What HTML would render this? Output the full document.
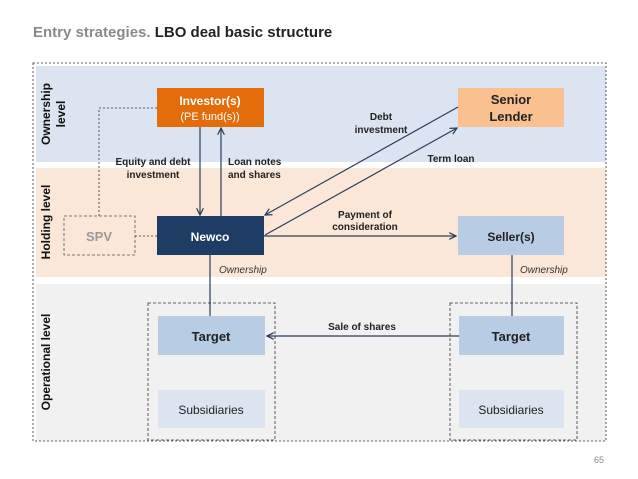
<!DOCTYPE html>
<html><head><meta charset="utf-8"><style>
html,body{margin:0;padding:0;background:#fff;}
svg{display:block;font-family:"Liberation Sans",Arial,sans-serif;}
</style></head><body>
<svg width="638" height="479" viewBox="0 0 638 479" xmlns="http://www.w3.org/2000/svg">
<defs>
<marker id="a" viewBox="0 0 10 10" refX="9" refY="5" markerWidth="7" markerHeight="7" orient="auto-start-reverse"><path d="M1,1 L9,5 L1,9" fill="none" stroke="#2b3f5c" stroke-width="1.5"/></marker>
</defs>
<text x="33" y="37" font-size="15" font-weight="bold" fill="#8a8a8a">Entry strategies. <tspan fill="#222">LBO deal basic structure</tspan></text>
<rect x="36" y="66" width="570" height="96" fill="#dbe4f0"/>
<rect x="36" y="168" width="570" height="109" fill="#fbe7d7"/>
<rect x="36" y="284" width="570" height="157" fill="#f1f1f1"/>
<rect x="33" y="63" width="573" height="378" fill="none" stroke="#333" stroke-width="0.8" stroke-dasharray="2,2"/>
<text transform="translate(50,114) rotate(-90)" text-anchor="middle" font-size="12" font-weight="bold" fill="#111">Ownership</text>
<text transform="translate(65,114) rotate(-90)" text-anchor="middle" font-size="12" font-weight="bold" fill="#111">level</text>
<text transform="translate(50,222) rotate(-90)" text-anchor="middle" font-size="12" font-weight="bold" fill="#111">Holding level</text>
<text transform="translate(50,362) rotate(-90)" text-anchor="middle" font-size="12" font-weight="bold" fill="#111">Operational level</text>
<!-- dashed SPV links -->
<polyline points="157,108 99,108 99,216" fill="none" stroke="#333" stroke-width="0.8" stroke-dasharray="2,2"/>
<line x1="135" y1="236" x2="157" y2="236" stroke="#333" stroke-width="0.8" stroke-dasharray="2,2"/>
<rect x="64" y="216" width="71" height="39" fill="none" stroke="#555" stroke-width="0.8" stroke-dasharray="3,2"/>
<text x="99" y="241" text-anchor="middle" font-size="13" font-weight="bold" fill="#999">SPV</text>
<!-- boxes -->
<rect x="157" y="88" width="107" height="39" fill="#e46c0a"/>
<text x="210" y="105" text-anchor="middle" font-size="12" font-weight="bold" fill="#fff">Investor(s)</text>
<text x="210" y="120" text-anchor="middle" font-size="11" fill="#fff">(PE fund(s))</text>
<rect x="458" y="88" width="106" height="39" fill="#fac090"/>
<text x="511" y="104" text-anchor="middle" font-size="13" font-weight="bold" fill="#222">Senior</text>
<text x="511" y="121" text-anchor="middle" font-size="13" font-weight="bold" fill="#222">Lender</text>
<rect x="157" y="216" width="107" height="39" fill="#1f3c64"/>
<text x="210" y="241" text-anchor="middle" font-size="12" font-weight="bold" fill="#fff">Newco</text>
<rect x="458" y="216" width="106" height="39" fill="#b8cce4"/>
<text x="511" y="241" text-anchor="middle" font-size="12" font-weight="bold" fill="#222">Seller(s)</text>
<!-- arrows -->
<line x1="200" y1="127" x2="200" y2="215" stroke="#2b3f5c" stroke-width="1.2" marker-end="url(#a)"/>
<line x1="221" y1="216" x2="221" y2="128" stroke="#2b3f5c" stroke-width="1.2" marker-end="url(#a)"/>
<line x1="458" y1="107" x2="265" y2="215" stroke="#2b3f5c" stroke-width="1.2" marker-end="url(#a)"/>
<line x1="265" y1="235" x2="457" y2="128" stroke="#2b3f5c" stroke-width="1.2" marker-end="url(#a)"/>
<line x1="264" y1="236" x2="456" y2="236" stroke="#2b3f5c" stroke-width="1.2" marker-end="url(#a)"/>
<text x="153" y="165" text-anchor="middle" font-size="10" font-weight="bold" fill="#222">Equity and debt</text>
<text x="153" y="178" text-anchor="middle" font-size="10" font-weight="bold" fill="#222">investment</text>
<text x="228" y="165" font-size="10" font-weight="bold" fill="#222">Loan notes</text>
<text x="228" y="178" font-size="10" font-weight="bold" fill="#222">and shares</text>
<text x="381" y="120" text-anchor="middle" font-size="10" font-weight="bold" fill="#222">Debt</text>
<text x="381" y="133" text-anchor="middle" font-size="10" font-weight="bold" fill="#222">investment</text>
<text x="451" y="162" text-anchor="middle" font-size="10" font-weight="bold" fill="#222">Term loan</text>
<text x="365" y="218" text-anchor="middle" font-size="10" font-weight="bold" fill="#222">Payment of</text>
<text x="365" y="230" text-anchor="middle" font-size="10" font-weight="bold" fill="#222">consideration</text>
<text x="219" y="273" font-size="10" font-style="italic" fill="#333">Ownership</text>
<text x="520" y="273" font-size="10" font-style="italic" fill="#333">Ownership</text>
<line x1="210" y1="255" x2="210" y2="316" stroke="#2b3f5c" stroke-width="1.2"/>
<line x1="512" y1="255" x2="512" y2="316" stroke="#2b3f5c" stroke-width="1.2"/>
<!-- groups -->
<rect x="148" y="303" width="127" height="137" fill="none" stroke="#333" stroke-width="0.8" stroke-dasharray="3,2"/>
<rect x="450" y="303" width="127" height="137" fill="none" stroke="#333" stroke-width="0.8" stroke-dasharray="3,2"/>
<rect x="158" y="316" width="107" height="39" fill="#b8cce4"/>
<text x="211" y="341" text-anchor="middle" font-size="13" font-weight="bold" fill="#222">Target</text>
<rect x="158" y="390" width="107" height="38" fill="#dbe4f0"/>
<text x="211" y="414" text-anchor="middle" font-size="12" fill="#222">Subsidiaries</text>
<rect x="459" y="316" width="105" height="39" fill="#b8cce4"/>
<text x="511" y="341" text-anchor="middle" font-size="13" font-weight="bold" fill="#222">Target</text>
<rect x="459" y="390" width="105" height="38" fill="#dbe4f0"/>
<text x="511" y="414" text-anchor="middle" font-size="12" fill="#222">Subsidiaries</text>
<line x1="459" y1="336" x2="267" y2="336" stroke="#2b3f5c" stroke-width="1.2" marker-end="url(#a)"/>
<text x="362" y="330" text-anchor="middle" font-size="10" font-weight="bold" fill="#222">Sale of shares</text>
<text x="604" y="463" text-anchor="end" font-size="9" fill="#888">65</text>
</svg>
</body></html>
